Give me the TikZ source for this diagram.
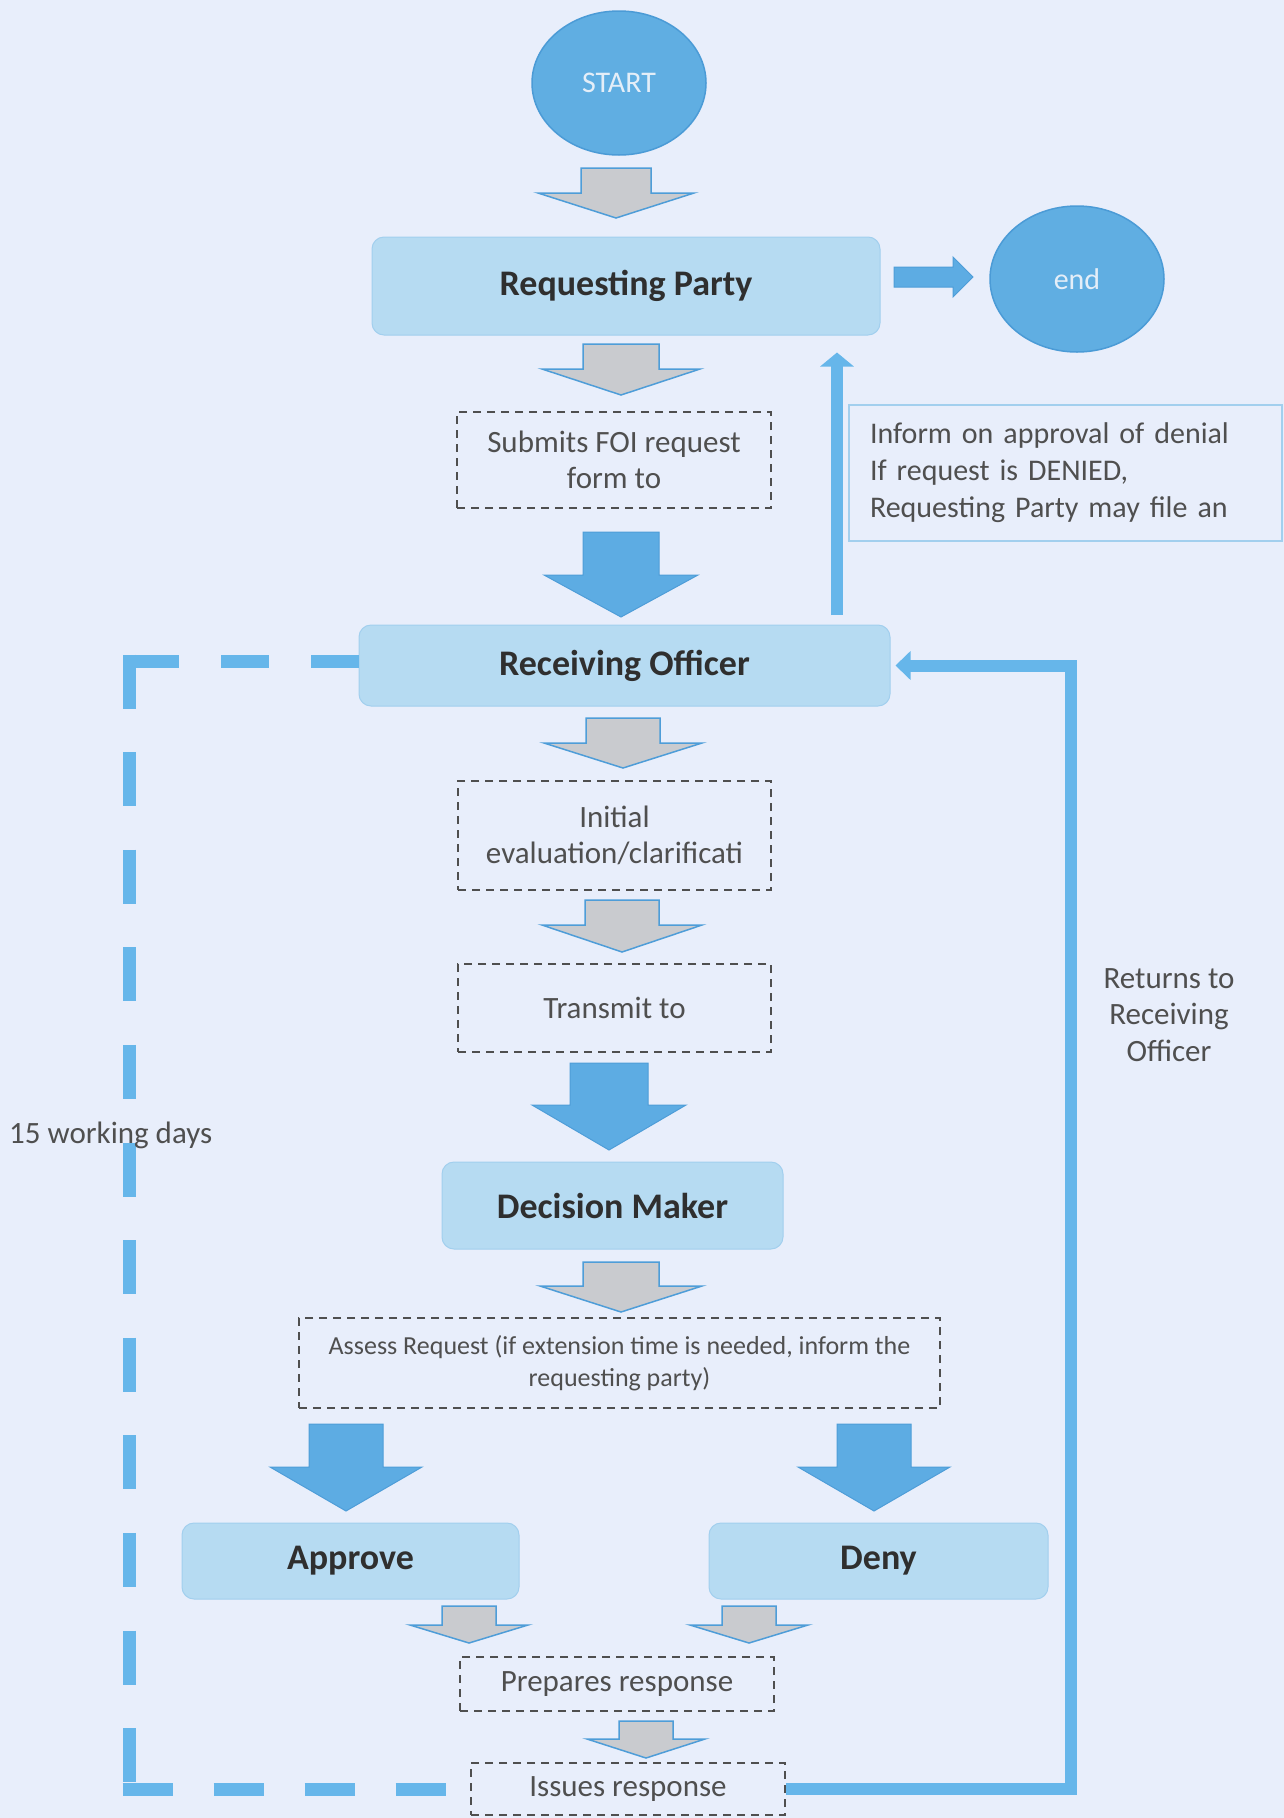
\documentclass[tikz,border=0pt]{standalone}
\usepackage{fontspec}
\setmainfont{Carlito}
\usetikzlibrary{shapes.geometric,arrows.meta}
\definecolor{bg}{HTML}{E8EEFB}
\definecolor{circfill}{HTML}{60AEE2}
\definecolor{circdraw}{HTML}{4B9BD6}
\definecolor{boxfill}{HTML}{B6DBF2}
\definecolor{boxdraw}{HTML}{A2CFEE}
\definecolor{arrblue}{HTML}{5DACE3}
\definecolor{arrbluedraw}{HTML}{4E9DD8}
\definecolor{grayfill}{HTML}{C9CBCF}
\definecolor{linblue}{HTML}{66B6EA}
\definecolor{txtdark}{HTML}{2F2F2F}
\definecolor{txtgray}{HTML}{4F4F4F}
\definecolor{termtext}{HTML}{E4EEF8}
\tikzset{
  term/.style={ellipse, fill=circfill, draw=circdraw, line width=1.5pt, text=termtext,
    font=\fontsize{30}{36}\selectfont, inner sep=0pt},
  mainbox/.style={rectangle, rounded corners=12pt, fill=boxfill, draw=boxdraw, line width=1pt,
    text=txtdark, font=\bfseries\fontsize{36}{42}\selectfont, inner sep=0pt},
  stepbox/.style={rectangle, draw=txtgray, dash pattern=on 8pt off 6pt, line width=2pt,
    text=txtgray, font=\fontsize{31}{36}\selectfont, align=center, inner sep=0pt},
  plain/.style={text=txtgray, font=\fontsize{31}{36.5}\selectfont, align=center, inner sep=0pt},
  garrow/.style={fill=grayfill, draw=arrbluedraw, line width=1.5pt, line join=miter},
  barrow/.style={fill=arrblue, draw=arrbluedraw, line width=1pt, line join=miter},
  dashline/.style={draw=linblue, line width=13pt},
  retline/.style={draw=linblue, line width=12pt, line join=miter},
}
% block arrow pointing down: cx, top, neck, tip, shaft half, head half
\newcommand\blockdown[7]{%
  \draw[#1] ({#2-#6},#3) -- ({#2+#6},#3) -- ({#2+#6},#4) -- ({#2+#7},#4) -- (#2,#5)
    -- ({#2-#7},#4) -- ({#2-#6},#4) -- cycle;}
\begin{document}
\begin{tikzpicture}[x=1pt,y=-1pt]
\fill[bg] (0,0) rectangle (1284,1818);
\useasboundingbox (0,0) rectangle (1284,1818);

% nodes
\node[term, minimum width=174pt, minimum height=144pt] (start) at (619,83) {START};
\node[term, minimum width=174pt, minimum height=146pt] (end) at (1077,279) {end};
\node[mainbox, minimum width=508pt, minimum height=98pt] (rp) at (626,286) {Requesting Party};
\node[stepbox, minimum width=314pt, minimum height=96pt] (submits) at (614,460) {Submits FOI request\\form to};
\node[draw=boxdraw, line width=2pt, rectangle, minimum height=136pt, text width=391pt, inner xsep=21pt, inner ysep=0pt,
  align=left, text=txtgray, font=\fontsize{30}{37}\selectfont] (inform) at (1065.5,473)
  {Inform on approval of denial\\If request is DENIED,\\Requesting Party may file an};
\node[mainbox, minimum width=531pt, minimum height=81pt] (ro) at (624.5,665.5) {Receiving Officer};
\node[stepbox, minimum width=313pt, minimum height=109pt] (initial) at (614.5,835.5) {Initial\\evaluation/clarificati};
\node[stepbox, minimum width=313pt, minimum height=88pt] (transmit) at (614.5,1008) {Transmit to};
\node[mainbox, minimum width=341pt, minimum height=87pt] (dm) at (612.5,1205.5) {Decision Maker};
\node[stepbox, minimum width=641pt, minimum height=90pt, font=\fontsize{26}{32}\selectfont] (assess) at (619.5,1363)
  {Assess Request (if extension time is needed, inform the\\requesting party)};
\node[mainbox, minimum width=337pt, minimum height=76pt] (approve) at (350.5,1561) {Approve};
\node[mainbox, minimum width=339pt, minimum height=76pt] (deny) at (878.5,1561) {Deny};
\node[stepbox, minimum width=314pt, minimum height=54pt] (prepares) at (617,1684) {Prepares response};
\node[stepbox, minimum width=314pt, minimum height=52pt] (issues) at (628,1789) {Issues response};
\node[plain] (returns) at (1169,1015) {Returns to\\Receiving\\Officer};

% block arrows
\blockdown{garrow}{616}{168}{193}{218}{35}{78}
\blockdown{garrow}{621}{344}{369}{395}{38}{79}
\blockdown{barrow}{621}{532}{575}{617}{38}{77}
\blockdown{garrow}{623}{718}{743}{768}{37}{79}
\blockdown{garrow}{622}{900}{925}{952}{37}{80}
\blockdown{barrow}{609}{1063}{1105}{1150}{39}{77}
\blockdown{garrow}{621}{1262}{1286}{1312}{38}{81}
\blockdown{barrow}{346}{1424}{1467}{1511}{37}{76}
\blockdown{barrow}{874}{1424}{1467}{1511}{37}{76}
\blockdown{garrow}{469}{1606}{1625}{1643}{27}{59}
\blockdown{garrow}{749}{1606}{1625}{1643}{27}{59}
\blockdown{garrow}{646}{1721}{1739}{1758}{27}{59}
\draw[barrow] (894,267) -- (953,267) -- (953,257) -- (973,277) -- (953,297) -- (953,287) -- (894,287) -- cycle;

% dashed 15 working days loop
\coordinate (c1) at (129,661);
\coordinate (c2) at (129,1789);
\draw[dashline, dash pattern=on 48pt off 42pt] (ro.west |- c1) -- ([xshift=-6.5pt]c1);
\draw[dashline, dash pattern=on 54pt off 43.6pt] ([yshift=6.5pt]c1) -- (c2);
\draw[dashline, dash pattern=on 50pt off 41pt] ([xshift=-6.5pt]c2) -- (issues.west);
\node[plain, anchor=west] (days) at (9,1135) {15 working days};

% return connector
\coordinate (c3) at (1071,665.5);
\draw[retline, -{Triangle[width=28pt,length=15pt]}, shorten >=5pt] (issues.east) -| (c3) -- (ro.east);

% inform arrow up
\coordinate (u0) at (837,615);
\draw[retline, -{Triangle[width=33pt,length=14pt]}, shorten >=17pt] (u0) -- (u0 |- rp.south);
\end{tikzpicture}
\end{document}
